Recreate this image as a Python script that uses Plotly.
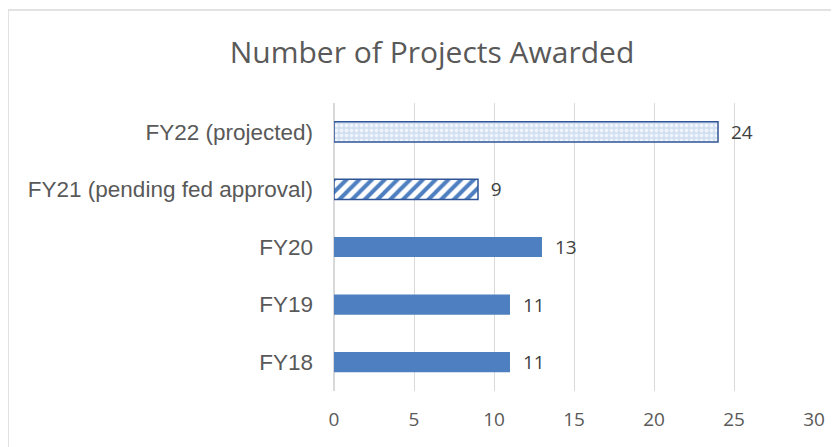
import plotly.graph_objects as go

categories = ["FY18", "FY19", "FY20", "FY21 (pending fed approval)", "FY22 (projected)"]
projects = [11, 11, 13, 9, 24]
tick_vals = [0, 5, 10, 15, 20, 25, 30]

blue = "#4E80C1"
dark = "#2F5597"
label_font = dict(size=19, color="#404040", family="Open Sans")


def bar(idx, color, line_color, line_width, pattern):
    ys = [categories[i] for i in idx]
    xs = [projects[i] for i in idx]
    return go.Bar(
        x=xs, y=ys, orientation="h", text=xs, texttemplate="  %{text}",
        textposition="outside", textfont=label_font, cliponaxis=False,
        constraintext="none",
        marker=dict(color=color, line=dict(color=line_color, width=line_width),
                    pattern=pattern),
    )


fig = go.Figure()
fig.add_trace(bar([0, 1, 2], blue, blue, 0, None))
fig.add_trace(bar([3], "white", dark, 1.5,
                  dict(shape="/", fgcolor=blue, bgcolor="white", size=9,
                       solidity=0.45, fillmode="replace")))
fig.add_trace(bar([4], "#D6E2F3", dark, 1.5,
                  dict(shape=".", fgcolor="#F2F6FC", bgcolor="#D3E0F2", size=5,
                       solidity=0.4, fillmode="replace")))

# page body adds an 8px offset, so layout positions are shifted by -8
fig.update_layout(
    width=839, height=447,
    margin=dict(l=326, r=33, t=95, b=64),
    paper_bgcolor="white", plot_bgcolor="white",
    barmode="overlay", bargap=0.65, showlegend=False,
    font=dict(family="Liberation Sans", color="#595959"),
    title=dict(text="Number of Projects Awarded", x=424 / 839, xref="container",
               y=1 - 44 / 447, yref="container", xanchor="center", yanchor="middle",
               font=dict(size=30, color="#595959", family="Open Sans")),
    xaxis=dict(range=[0, 30], tickvals=tick_vals, showgrid=True, gridcolor="#D9D9D9",
               gridwidth=1, zeroline=True, zerolinecolor="#D9D9D9", showline=False,
               tickfont=dict(size=19, color="#595959", family="Open Sans"),
               ticklabelstandoff=15, automargin=False, fixedrange=True),
    yaxis=dict(showgrid=False, showline=False, ticks="", ticklabelstandoff=20,
               categoryorder="array", categoryarray=categories,
               tickfont=dict(size=22.5, color="#595959"), automargin=False,
               fixedrange=True),
    shapes=[dict(type="rect", xref="paper", yref="paper",
                 x0=-326 / 480, x1=1.2, y0=-0.4, y1=(383 - 2) / 288,
                 line=dict(color="#D9D9D9", width=1.5), fillcolor="rgba(0,0,0,0)")],
)

fig.write_html("out.html")
